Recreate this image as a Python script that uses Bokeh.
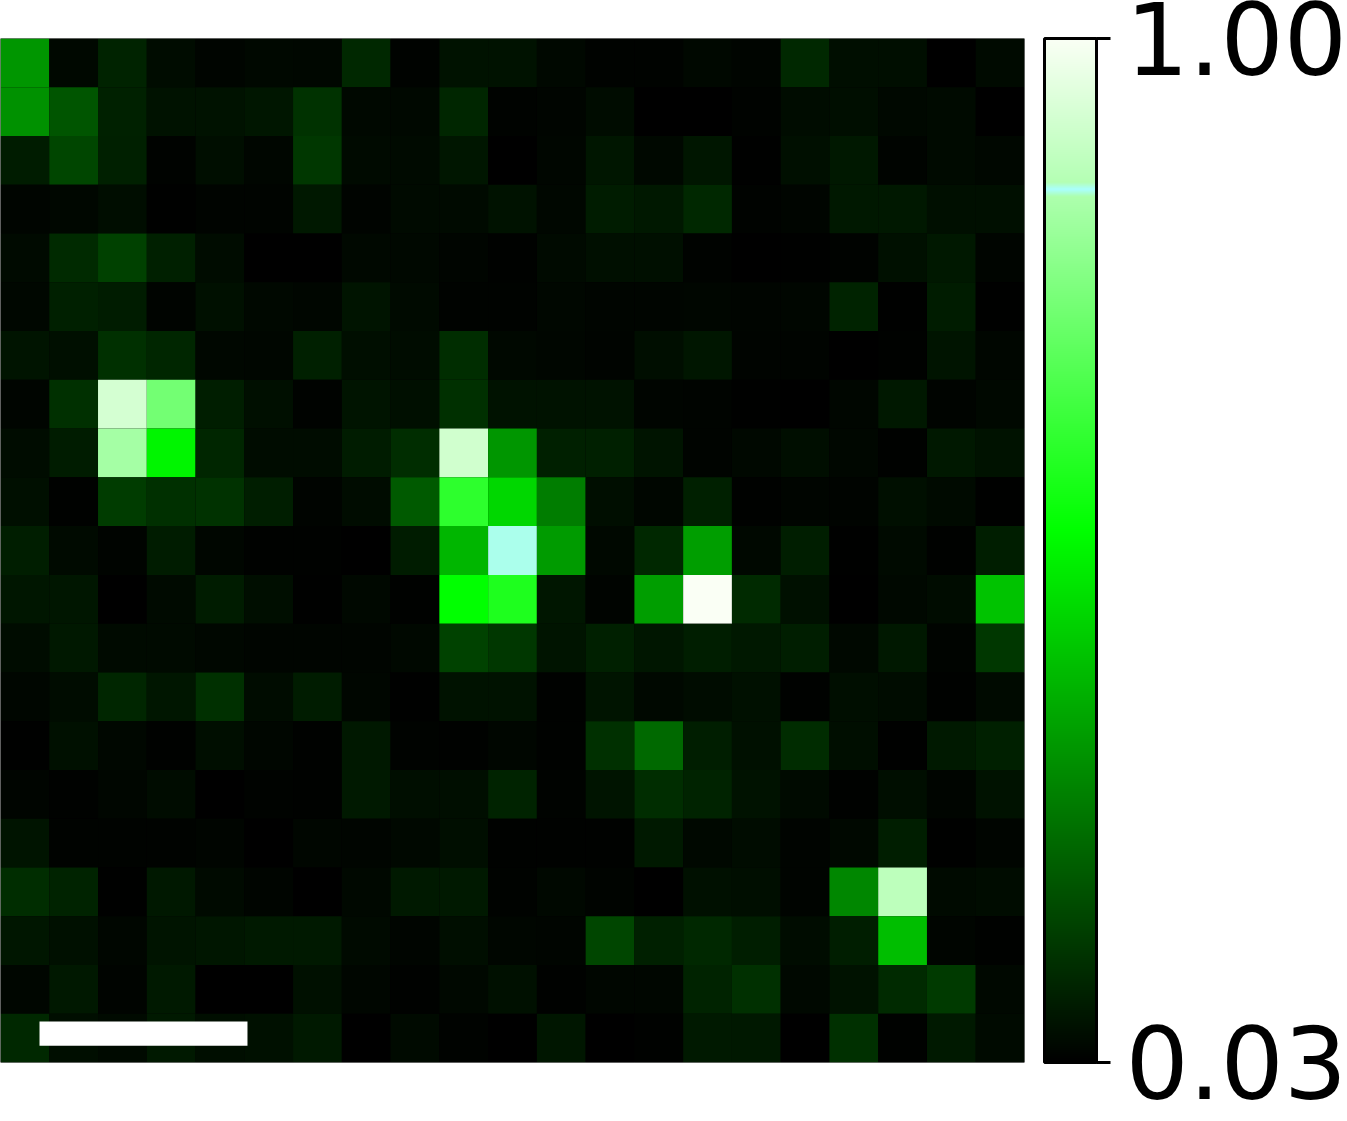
from bokeh.plotting import figure
from bokeh.models import ColumnDataSource, LinearColorMapper, ColorBar, FixedTicker, PrintfTickFormatter
from bokeh.transform import transform
from bokeh.embed import file_html
from bokeh.resources import INLINE
import numpy as np

VMIN = 0.03
VMAX = 1.00
TICKS = [0.03, 1.00]

r00 = [.327,.046,.099,.054,.040,.046,.044,.109,.036,.066,.066,.046,.036,.036,.046,.040,.109,.058,.058,.030,.050]
r01 = [.317,.198,.095,.066,.066,.074,.129,.046,.046,.105,.036,.040,.054,.030,.030,.036,.054,.058,.046,.050,.030]
r02 = [.085,.169,.093,.036,.058,.042,.139,.050,.050,.074,.030,.042,.074,.046,.074,.032,.060,.078,.038,.050,.044]
r03 = [.040,.044,.056,.032,.038,.038,.078,.038,.050,.050,.066,.044,.085,.078,.109,.036,.040,.078,.078,.060,.060]
r04 = [.050,.113,.159,.093,.054,.030,.030,.046,.046,.040,.034,.050,.060,.060,.036,.030,.032,.036,.062,.078,.040]
r05 = [.044,.093,.085,.038,.062,.046,.042,.070,.050,.036,.036,.044,.040,.040,.042,.040,.042,.101,.032,.085,.032]
r06 = [.070,.060,.125,.105,.044,.042,.093,.058,.054,.119,.046,.042,.038,.058,.074,.038,.038,.030,.034,.070,.042]
r07 = [.040,.125,.927,.744,.089,.060,.036,.070,.060,.125,.066,.066,.066,.040,.038,.032,.030,.042,.078,.038,.046]
r08 = [.054,.085,.836,.515,.105,.054,.054,.085,.119,.918,.327,.093,.093,.070,.038,.046,.058,.044,.034,.078,.066]
r09 = [.060,.034,.149,.125,.129,.089,.038,.054,.208,.616,.456,.278,.058,.042,.093,.034,.040,.038,.060,.050,.032]
r10 = [.089,.050,.038,.085,.042,.034,.034,.030,.085,.390,.856,.337,.046,.109,.343,.046,.089,.032,.050,.034,.089]
r11 = [.074,.074,.030,.050,.085,.058,.032,.046,.034,.535,.589,.074,.038,.343,1.00,.113,.062,.030,.046,.054,.416]
r12 = [.054,.078,.050,.050,.044,.040,.040,.040,.046,.161,.139,.070,.093,.074,.089,.078,.089,.046,.078,.038,.139]
r13 = [.042,.054,.105,.074,.125,.054,.085,.042,.032,.066,.066,.034,.070,.046,.054,.062,.034,.058,.054,.034,.050]
r14 = [.032,.062,.044,.034,.058,.042,.034,.078,.036,.034,.042,.034,.125,.238,.089,.062,.117,.058,.032,.080,.093]
r15 = [.040,.034,.042,.054,.030,.036,.034,.080,.058,.058,.101,.036,.070,.119,.099,.066,.050,.034,.058,.040,.066]
r16 = [.070,.036,.036,.036,.040,.030,.042,.040,.046,.058,.034,.034,.034,.080,.046,.054,.038,.046,.089,.032,.040]
r17 = [.119,.099,.032,.078,.050,.040,.030,.046,.080,.080,.036,.046,.038,.030,.062,.058,.038,.297,.881,.050,.054]
r18 = [.074,.062,.042,.070,.074,.081,.081,.050,.040,.058,.042,.040,.169,.093,.109,.089,.054,.089,.406,.040,.034]
r19 = [.042,.078,.038,.081,.030,.030,.062,.042,.034,.046,.062,.034,.042,.042,.101,.125,.046,.066,.113,.145,.046]
r20 = [.109,.058,.050,.081,.058,.062,.081,.030,.050,.036,.030,.074,.030,.034,.080,.078,.030,.125,.034,.080,.050]

rows = [r00,r01,r02,r03,r04,r05,r06,r07,r08,r09,r10,r11,r12,r13,r14,r15,r16,r17,r18,r19,r20]
N = len(rows)

# black -> green -> near-white map with a narrow cyan band
stops_t = [0.0, 0.52, 0.846, 0.853, 0.860, 1.0]
stops_r = [0, 0, 173, 170, 180, 250]
stops_g = [0, 255, 255, 255, 255, 255]
stops_b = [0, 0, 173, 255, 180, 245]
tt = np.linspace(0, 1, 1024)
palette = ["#%02x%02x%02x" % (int(round(a)), int(round(b)), int(round(c)))
           for a, b, c in zip(np.interp(tt, stops_t, stops_r),
                              np.interp(tt, stops_t, stops_g),
                              np.interp(tt, stops_t, stops_b))]

mapper = LinearColorMapper(palette=palette, low=VMIN, high=VMAX)

source = ColumnDataSource(dict(
    col=[c + 0.5 for r in range(N) for c in range(N)],
    row=[r + 0.5 for r in range(N) for c in range(N)],
    val=[rows[r][c] for r in range(N) for c in range(N)],
))

p = figure(frame_width=1024, frame_height=1024, x_range=(0, N), y_range=(N, 0),
           toolbar_location=None, output_backend="svg",
           x_axis_location=None, y_axis_location=None,
           min_border_left=0, min_border_top=38, min_border_bottom=59, min_border_right=0,
           outline_line_color=None, background_fill_color="black")
p.margin = (0, 0, 0, 0)
p.grid.visible = False

p.rect(x="col", y="row", width=1, height=1, source=source,
       fill_color=transform("val", mapper), line_color=None)

# white scale bar
bar_left, bar_right, bar_bottom, bar_top = 0.80, 5.065, 20.655, 20.16
p.quad(left=[bar_left], right=[bar_right], bottom=[bar_bottom], top=[bar_top],
       fill_color="white", line_color=None)

cb = ColorBar(color_mapper=mapper, width=52, height=1024, margin=0, padding=0, location=(20, 0),
              ticker=FixedTicker(ticks=TICKS), formatter=PrintfTickFormatter(format="%.2f"),
              major_label_text_font="DejaVu Sans", major_label_text_font_size="99.5px",
              major_label_text_color="black", label_standoff=15,
              major_tick_in=0, major_tick_out=14, major_tick_line_color="black",
              major_tick_line_width=3, minor_tick_line_color=None,
              bar_line_color="black", bar_line_width=3,
              border_line_color=None, background_fill_color=None)
p.add_layout(cb, "right")

open("out.html", "w").write(file_html(p, INLINE))
